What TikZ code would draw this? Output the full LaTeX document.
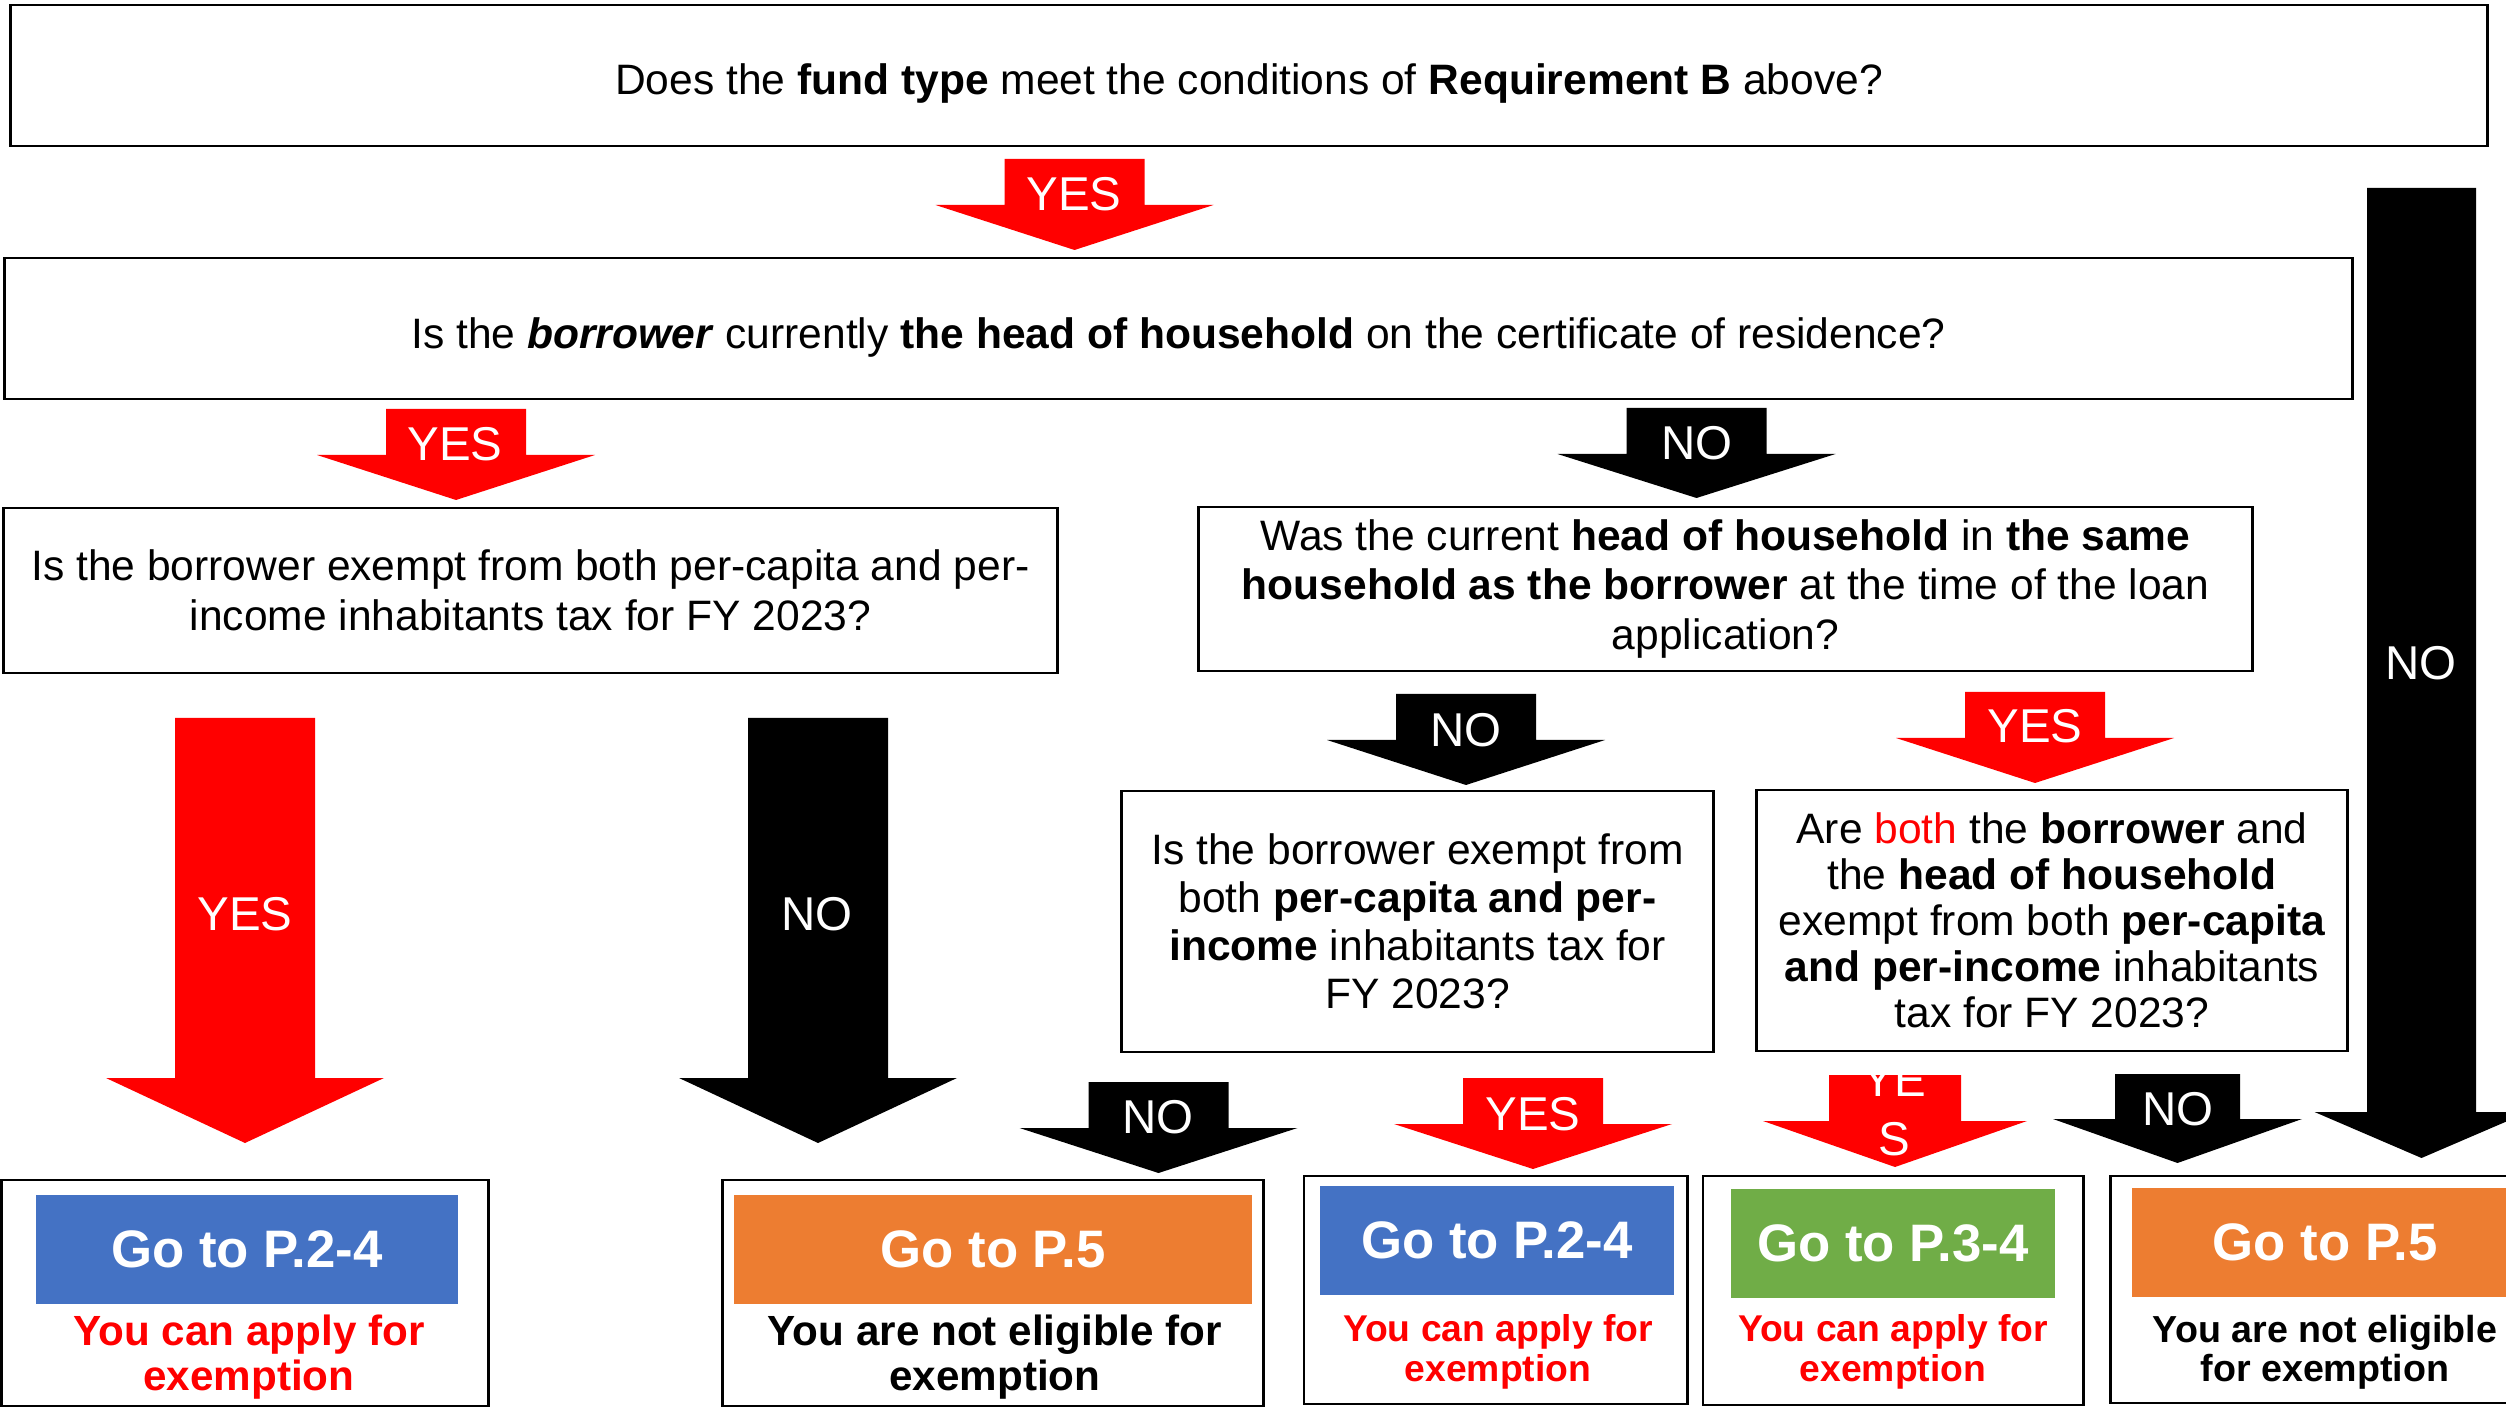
\documentclass[tikz,border=0pt]{standalone}
\usepackage{fontspec}
\setmainfont{Liberation Sans}
\definecolor{yesred}{HTML}{FF0000}
\definecolor{goblue}{HTML}{4472C4}
\definecolor{gogreen}{HTML}{70AD47}
\definecolor{goorange}{HTML}{ED7D31}
% block arrow: colour, centre x, top, neck, tip, half shaft, half head
\newcommand{\blockarrow}[7]{%
  \fill[#1] ({#2-#6},#3) -- ({#2+#6},#3) -- ({#2+#6},#4) -- ({#2+#7},#4)
    -- (#2,#5) -- ({#2-#7},#4) -- ({#2-#6},#4) -- cycle;}
\tikzset{
  qbox/.style={draw, line width=0.8pt, inner sep=0pt, align=center,
    font=\fontsize{12.1}{14.2}\selectfont},
  lowtext/.style={text height=0.49cm, text depth=0.1cm},
  outbox/.style={draw, line width=0.8pt, inner sep=0pt},
  panel/.style={inner sep=0pt, text=white, font=\bfseries\fontsize{15}{17}\selectfont},
  okline/.style={align=center, text=yesred, font=\bfseries\fontsize{12}{13}\selectfont},
  noline/.style={align=center, font=\bfseries\fontsize{12}{13}\selectfont},
  arrowlbl/.style={text=white, inner sep=0pt, align=center, font=\fontsize{13.5}{16.7}\selectfont},
}
\begin{document}
\begin{tikzpicture}[x=0.01cm, y=-0.01cm]
\clip (0,0) rectangle (2506,1407);
\fill[white] (0,0) rectangle (2506,1407);

% questions
\node[qbox, lowtext, minimum width=24.76cm, minimum height=1.41cm] (fund) at (1249,75.5)
  {Does the \textbf{fund type} meet the conditions of \textbf{Requirement B} above?};
\node[qbox, lowtext, minimum width=23.47cm, minimum height=1.41cm] (head) at (1178.5,328.5)
  {Is the \textbf{\textit{borrower}} currently \textbf{the head of household} on the certificate of residence?};
\node[qbox, minimum width=10.53cm, minimum height=1.65cm] (taxa) at (530.5,590.5)
  {Is the borrower exempt from both per-capita and per-\\income inhabitants tax for FY 2023?};
\node[qbox, minimum width=10.53cm, minimum height=1.64cm] (same) at (1725.5,589)
  {Was the current \textbf{head of household} in \textbf{the same}\\
   \textbf{household as the borrower} at the time of the loan\\application?};
\node[qbox, minimum width=5.91cm, minimum height=2.61cm,
  font=\fontsize{12.1}{13.6}\selectfont] (taxb) at (1417.5,921.5)
  {Is the borrower exempt from\\both \textbf{per-capita and per-}\\
   \textbf{income} inhabitants tax for\\FY 2023?};
\node[qbox, minimum width=5.90cm, minimum height=2.61cm,
  font=\fontsize{12.1}{13.1}\selectfont] (taxc) at (2052,920.5)
  {Are \textcolor{yesred}{both} the \textbf{borrower} and\\the \textbf{head of household}\\
   exempt from both \textbf{per-capita}\\\textbf{and per-income} inhabitants\\tax for FY 2023?};

% arrows
\blockarrow{yesred}{1074.5}{159}{205}{250}{70}{139}
\node[arrowlbl] (yes1) at (1074,194) {YES};
\blockarrow{yesred}{456}{409}{455}{500}{70}{139}
\node[arrowlbl] (yes2) at (455,444) {YES};
\blockarrow{black}{1696.5}{408}{454}{498}{70}{139}
\node[arrowlbl] (no1) at (1697,443) {NO};
\blockarrow{black}{1466}{694}{740}{785}{70}{139}
\node[arrowlbl] (no2) at (1466,730) {NO};
\blockarrow{yesred}{2035}{692}{738}{783}{70}{139}
\node[arrowlbl] (yes3) at (2035,726) {YES};
\blockarrow{yesred}{245}{718}{1078}{1143}{70}{139}
\node[arrowlbl] (yes4) at (245,914) {YES};
\blockarrow{black}{818}{718}{1078}{1143}{70}{139}
\node[arrowlbl] (no3) at (817,914) {NO};
\blockarrow{black}{1158.5}{1082}{1128}{1173}{70}{139}
\node[arrowlbl] (no4) at (1158,1117) {NO};
\blockarrow{yesred}{1533}{1078}{1124}{1169}{70}{139}
\node[arrowlbl] (yes5) at (1533,1114) {YES};
\blockarrow{yesred}{1895}{1075}{1121}{1167}{66}{132}
\node[arrowlbl] (yes6) at (1894,1110) {YE\\S};
\blockarrow{black}{2177.5}{1074}{1119}{1163}{62.5}{124.5}
\node[arrowlbl] (no5) at (2178,1109) {NO};
\blockarrow{black}{2421.5}{188}{1112}{1158}{54.5}{107}
\node[arrowlbl] (no6) at (2421,663) {NO};

% outcomes
\node[outbox, minimum width=4.86cm, minimum height=2.26cm] (out1) at (245,1293) {};
\node[panel, fill=goblue, minimum width=4.22cm, minimum height=1.09cm] (go1) at (247,1249.5) {Go to P.2-4};
\node[okline] (msg1) at (249,1357) {You can apply for\\exemption};

\node[outbox, minimum width=5.40cm, minimum height=2.26cm] (out2) at (993,1293) {};
\node[panel, fill=goorange, minimum width=5.18cm, minimum height=1.09cm] (go2) at (993,1249.5) {Go to P.5};
\node[noline] (msg2) at (995,1357) {You are not eligible for\\exemption};

\node[outbox, minimum width=3.83cm, minimum height=2.28cm] (out3) at (1495.5,1290) {};
\node[panel, fill=goblue, minimum width=3.54cm, minimum height=1.09cm] (go3) at (1497,1240.5) {Go to P.2-4};
\node[okline, font=\bfseries\fontsize{10.6}{11.2}\selectfont] (msg3) at (1498,1352) {You can apply for\\exemption};

\node[outbox, minimum width=3.80cm, minimum height=2.29cm] (out4) at (1893,1290.5) {};
\node[panel, fill=gogreen, minimum width=3.24cm, minimum height=1.09cm] (go4) at (1893,1243.5) {Go to P.3-4};
\node[okline, font=\bfseries\fontsize{10.6}{11.2}\selectfont] (msg4) at (1893,1352) {You can apply for\\exemption};

\node[outbox, minimum width=4.28cm, minimum height=2.27cm] (out5) at (2325,1289.5) {};
\node[panel, fill=goorange, minimum width=3.86cm, minimum height=1.09cm] (go5) at (2325,1242.5) {Go to P.5};
\node[noline, font=\bfseries\fontsize{10.7}{11.2}\selectfont] (msg5) at (2325,1352) {You are not eligible\\for exemption};
\end{tikzpicture}
\end{document}
